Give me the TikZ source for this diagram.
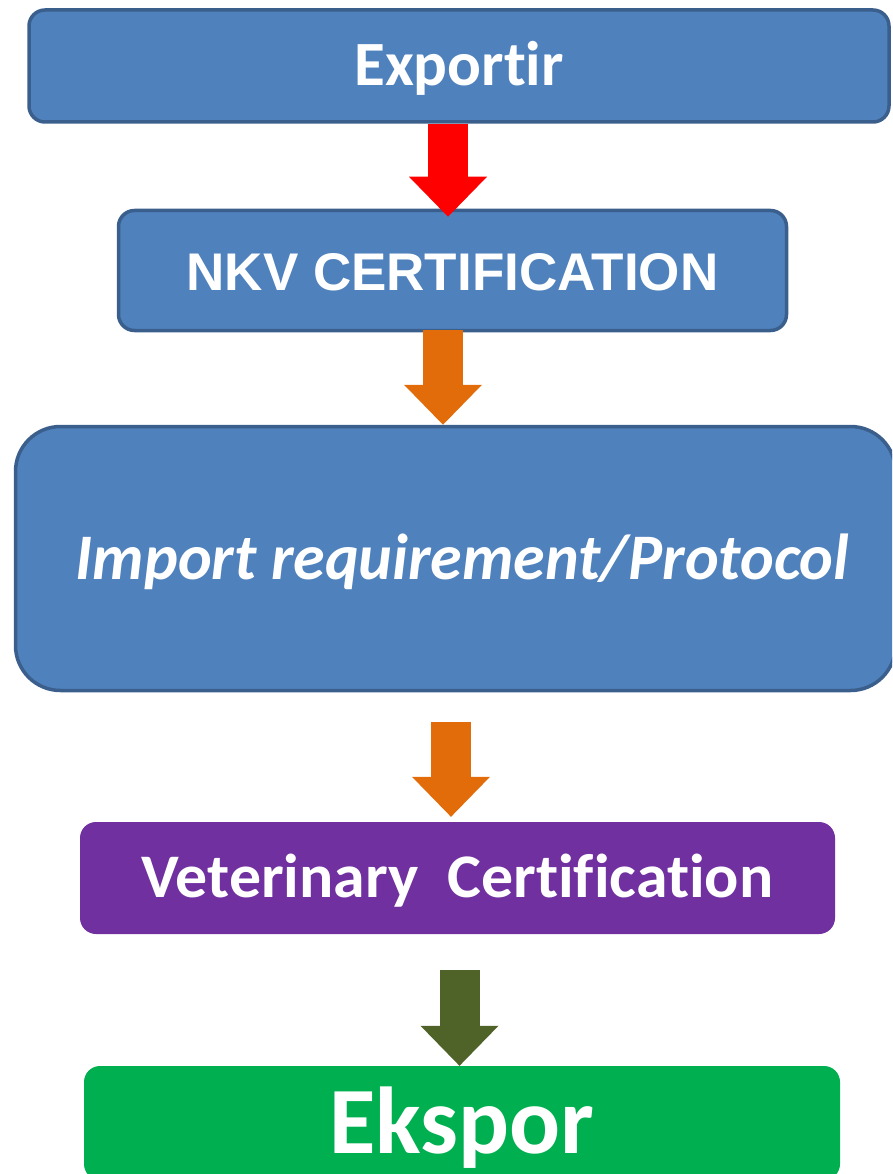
\documentclass[tikz,border=0pt]{standalone}
\usepackage{fontspec}
\setmainfont{Carlito}[Ligatures=NoCommon]
\newfontfamily\arialf{Liberation Sans}
\usetikzlibrary{arrows.meta,calc}
\definecolor{boxblue}{HTML}{4F81BD}
\definecolor{boxborder}{HTML}{3A5F8C}
\definecolor{arrred}{HTML}{FF0000}
\definecolor{arrorange}{HTML}{E36C0A}
\definecolor{boxpurple}{HTML}{7030A0}
\definecolor{arrolive}{HTML}{4F6228}
\definecolor{boxgreen}{HTML}{00B050}
\begin{document}
\begin{tikzpicture}[x=1pt,y=-1pt,
  bluebox/.style={draw=boxborder, line width=3.5pt, fill=boxblue, rounded corners=16pt,
    text=white, inner sep=0pt, align=center},
  flatbox/.style={rounded corners=16pt, text=white, inner sep=0pt, align=center},
  blockarrow/.style={line width=40pt, -{Triangle[width=78pt,length=40pt,line width=0pt]}}
]
\useasboundingbox (0,0) rectangle (892,1174);
\clip (0,0) rectangle (892,1174);

\node[bluebox, minimum width=860pt, minimum height=112pt,
  font=\fontsize{63}{63}\selectfont\bfseries, text height=40pt, text depth=0pt]
  (b1) at (459,66) {Exportir};

\node[bluebox, minimum width=668pt, minimum height=120pt,
  font=\fontsize{53}{53}\selectfont\arialf\bfseries, text height=39pt, text depth=0pt]
  (b2) at (452.5,270.5) {NKV CERTIFICATION};

\node[bluebox, rounded corners=45pt, minimum width=880pt, minimum height=264pt,
  font=\fontsize{65}{65}\selectfont\bfseries\itshape, text height=41pt, text depth=0pt]
  (b3) at (455.5,558.5) {\hspace*{14pt}\scalebox{0.985}[1]{Import requirement/Protocol}};

\node[flatbox, fill=boxpurple, minimum width=755pt, minimum height=112pt,
  font=\fontsize{62}{62}\selectfont\bfseries, text height=39pt, text depth=0pt]
  (b4) at (457.5,878) {\scalebox{1.03}[1]{Veterinary\ \ Certification}};

\node[flatbox, fill=boxgreen, minimum width=756pt, minimum height=114pt,
  font=\fontsize{95}{95}\selectfont\bfseries, text height=60pt, text depth=0pt]
  (b5) at (462,1123) {Ekspor};

\draw[blockarrow, arrred] ([xshift=-11pt]b1.south) -- ([xshift=-4.5pt,yshift=-8pt]b2.north);
\draw[blockarrow, arrorange] ([xshift=-9.5pt,yshift=2pt]b2.south) -- ([xshift=-12.5pt]b3.north);
\draw[blockarrow, arrorange] ([xshift=-4.5pt,yshift=-30pt]b3.south) -- ([xshift=-6.5pt,yshift=5pt]b4.north);
\draw[blockarrow, arrolive] ([xshift=2pt,yshift=-36pt]b4.south) -- ([xshift=-2.5pt]b5.north);
\end{tikzpicture}
\end{document}
